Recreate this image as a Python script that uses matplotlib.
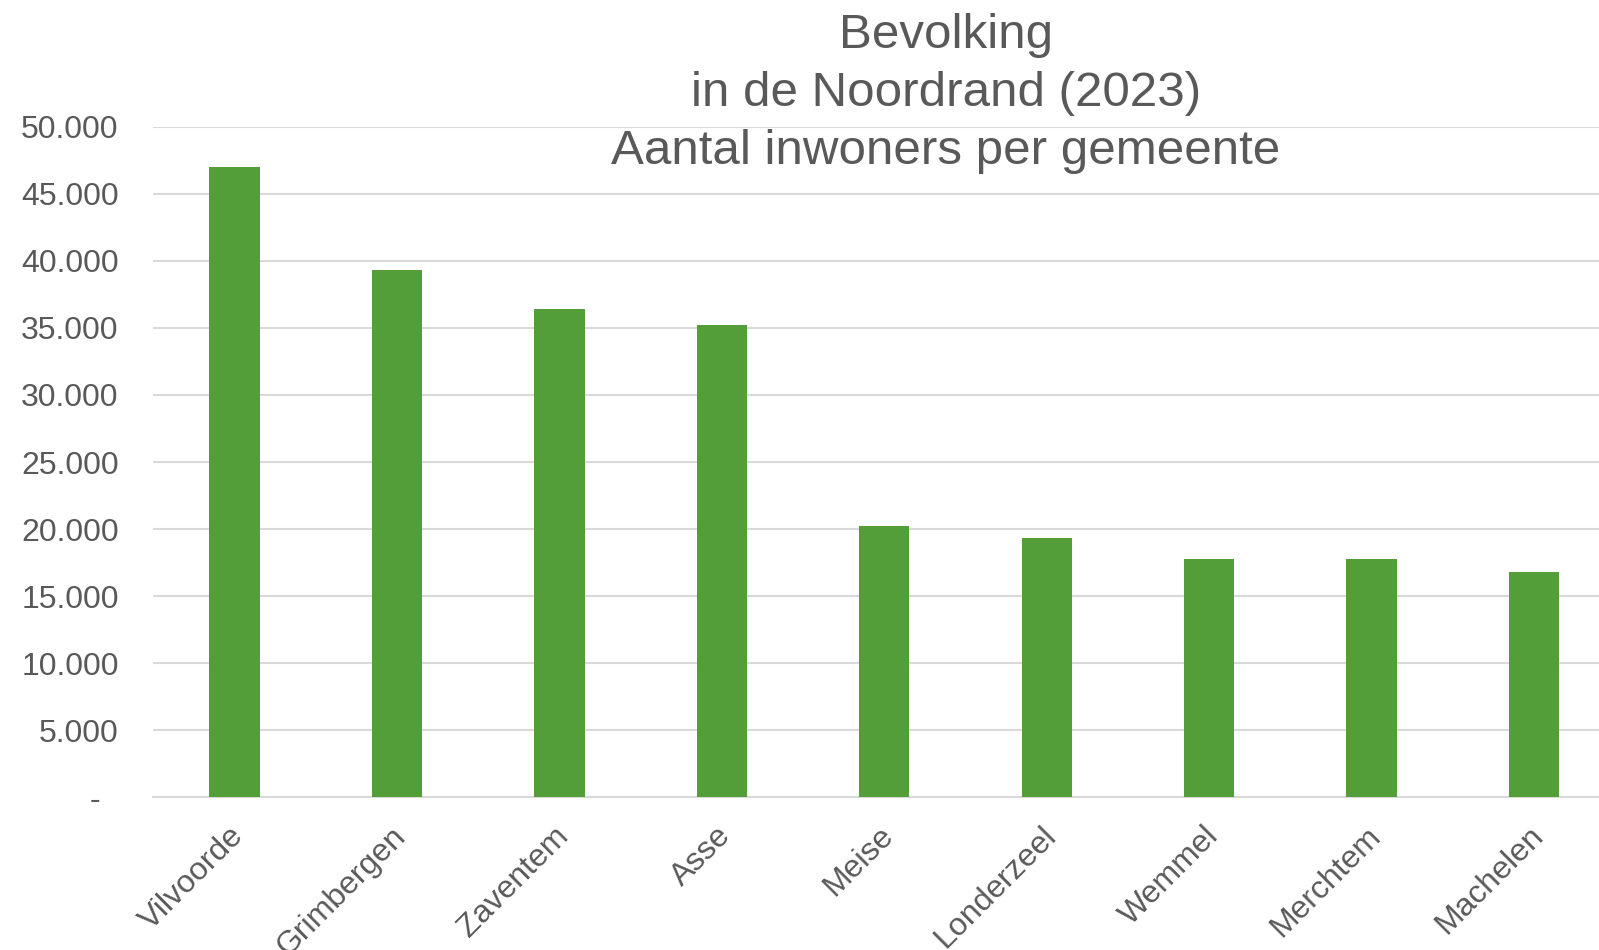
import matplotlib
matplotlib.use("Agg")
import matplotlib.pyplot as plt
import matplotlib.transforms as mtrans
from matplotlib.ticker import FuncFormatter

plt.rcParams['font.family'] = ['Liberation Sans', 'DejaVu Sans']

# Data
gemeenten = ['Vilvoorde', 'Grimbergen', 'Zaventem', 'Asse', 'Meise',
             'Londerzeel', 'Wemmel', 'Merchtem', 'Machelen']
inwoners = [47020, 39300, 36410, 35200, 20230, 19310, 17770, 17750, 16820]
title_lines = ['Bevolking', 'in de Noordrand (2023)', 'Aantal inwoners per gemeente']

text_col = '#595959'
grid_col = '#D9D9D9'
bar_col = '#549E39'

fig = plt.figure(figsize=(15.99, 9.5), dpi=100)
ax = fig.add_axes([153.4 / 1599, 1 - 797.3 / 950, 1 - 153.4 / 1599, (797.3 - 126.7) / 950])

x = list(range(len(gemeenten)))
ax.bar(x, inwoners, width=0.31, color=bar_col, zorder=3)

ax.set_xlim(-0.5, 8.40)
ax.set_ylim(0, 50000)
ax.set_yticks(range(0, 50001, 5000))


def fmt(v, pos):
    if v == 0:
        return '-  '
    return f'{int(v):,}'.replace(',', '.')


ax.yaxis.set_major_formatter(FuncFormatter(fmt))
ax.grid(axis='y', color=grid_col, linewidth=1.5, zorder=0)
for s in ['top', 'right', 'left']:
    ax.spines[s].set_visible(False)
ax.spines['bottom'].set_color(grid_col)
ax.spines['bottom'].set_linewidth(1.5)
ax.tick_params(axis='y', length=0, labelsize=23, colors=text_col, pad=25)
ax.tick_params(axis='x', length=0, labelsize=23, colors=text_col, pad=17)

ax.set_xticks(x)
ax.set_xticklabels(gemeenten, rotation=45, ha='right', rotation_mode='anchor')
shift = mtrans.ScaledTranslation(-6 / 100, 0, fig.dpi_scale_trans)
for lab in ax.get_xticklabels():
    lab.set_transform(lab.get_transform() + shift)

# Title, three lines
ys = [36, 94, 151]
for line, yy in zip(title_lines, ys):
    fig.text(946 / 1599, 1 - yy / 950, line, ha='center', va='center',
             fontsize=35.5, color=text_col)

fig.savefig('out.png', dpi=100)
